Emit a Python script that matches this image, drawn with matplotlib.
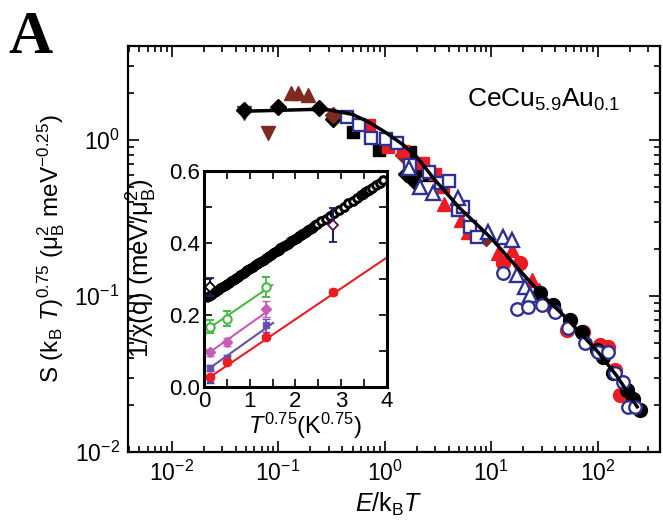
import matplotlib
matplotlib.use("Agg")
import matplotlib.pyplot as plt
from matplotlib.ticker import LogLocator, MultipleLocator, FormatStrFormatter, NullFormatter

plt.rcParams["font.family"] = ["Liberation Sans", "DejaVu Sans"]
plt.rcParams["mathtext.fontset"] = "custom"
plt.rcParams["mathtext.rm"] = "Liberation Sans"
plt.rcParams["mathtext.it"] = "Liberation Sans:italic"
plt.rcParams["mathtext.bf"] = "Liberation Sans:bold"

# main panel: scaling curve and data sets
curve_x = [0.048, 0.1, 0.2, 0.3, 0.5, 0.7, 1.0, 1.5, 2.0, 3.0, 5.0, 10, 20, 30, 50, 100, 150, 235]
curve_y = [1.53, 1.55, 1.57, 1.56, 1.46, 1.31, 1.13, 0.93, 0.78, 0.55, 0.37, 0.235, 0.138, 0.102, 0.073, 0.044, 0.031, 0.0195]

brown_dn_x = [0.048, 0.08]
brown_dn_y = [1.49, 1.11]
brown_up_x = [0.132, 0.153, 0.19]
brown_up_y = [2.0, 2.0, 1.94]
blk_dia_x = [0.048, 0.1, 0.24, 0.33, 1.6, 1.9, 2.0]
blk_dia_y = [1.56, 1.63, 1.60, 1.36, 0.61, 0.55, 0.62]
brn_dia_x = [0.325, 1.5, 9.0]
brn_dia_y = [1.45, 0.80, 0.235]
blk_sq_x = [0.51, 0.88, 1.75, 2.6]
blk_sq_y = [1.13, 0.86, 0.84, 0.60]
red_sq_x = [0.71, 1.07, 1.5, 2.3, 3.0, 3.5]
red_sq_y = [1.25, 0.90, 0.85, 0.71, 0.61, 0.50]
red_tri_x = [3.6, 5.2, 6.1, 11.7, 15.8, 24, 28]
red_tri_y = [0.39, 0.307, 0.257, 0.19, 0.197, 0.127, 0.11]
blue_sq_x = [0.44, 0.58, 0.74, 1.02, 1.32, 1.75, 2.6, 3.35, 4.0, 4.9, 5.5, 6.4, 7.4]
blue_sq_y = [1.40, 1.25, 1.03, 1.01, 0.96, 0.69, 0.62, 0.53, 0.55, 0.356, 0.37, 0.277, 0.239]
blue_tri_x = [1.68, 2.17, 2.82, 4.94, 9.4, 12.8, 15.8, 17.6, 21, 23]
blue_tri_y = [0.66, 0.50, 0.457, 0.425, 0.257, 0.239, 0.229, 0.136, 0.114, 0.101]
red_circ_x = [13, 18.8, 38, 52, 73, 105, 126, 146, 163]
red_circ_y = [0.163, 0.163, 0.084, 0.0605, 0.0588, 0.0485, 0.047, 0.0336, 0.0232]
blk_circ_x = [29, 38, 55, 72, 99, 113, 140, 190, 215, 250]
blk_circ_y = [0.104, 0.0875, 0.070, 0.0588, 0.045, 0.0406, 0.032, 0.025, 0.022, 0.0186]
blue_circ_x = [13, 17.6, 22, 30, 40, 53, 76, 101, 126, 146, 173, 193, 225]
blue_circ_y = [0.14, 0.0826, 0.085, 0.0875, 0.079, 0.062, 0.05, 0.0437, 0.0437, 0.032, 0.028, 0.0194, 0.0194]

# inset: 1/chi(q) vs T^0.75 (bulk susceptibility, dense points)
bulk_x = [0.07, 0.11, 0.15, 0.19, 0.23, 0.27, 0.31, 0.35, 0.39, 0.43, 0.47, 0.51, 0.55, 0.59,
          0.63, 0.67, 0.71, 0.75, 0.79, 0.83, 0.87, 0.91, 0.95, 0.99, 1.03, 1.07, 1.11, 1.15,
          1.19, 1.23, 1.27, 1.31, 1.35, 1.39, 1.43, 1.47, 1.51, 1.55, 1.59, 1.63, 1.67, 1.71,
          1.75, 1.79, 1.83, 1.87, 1.91, 1.95, 1.99, 2.03, 2.07, 2.11, 2.15, 2.19, 2.23, 2.27,
          2.31, 2.35, 2.39, 2.43, 2.47, 2.56, 2.66, 2.75, 2.85, 2.95, 3.05, 3.15, 3.25, 3.34,
          3.43, 3.47, 3.52, 3.56, 3.60, 3.68, 3.76, 3.84, 3.92]
bulk_y = [0.250, 0.253, 0.257, 0.260, 0.263, 0.267, 0.270, 0.274, 0.277, 0.280, 0.284, 0.287,
          0.290, 0.294, 0.297, 0.300, 0.304, 0.307, 0.311, 0.314, 0.317, 0.321, 0.324, 0.327,
          0.331, 0.334, 0.338, 0.341, 0.344, 0.348, 0.351, 0.354, 0.358, 0.361, 0.365, 0.368,
          0.371, 0.375, 0.378, 0.381, 0.385, 0.388, 0.392, 0.395, 0.398, 0.402, 0.405, 0.408,
          0.412, 0.415, 0.419, 0.422, 0.425, 0.429, 0.432, 0.435, 0.439, 0.442, 0.445, 0.449,
          0.452, 0.460, 0.468, 0.476, 0.484, 0.493, 0.501, 0.510, 0.518, 0.526, 0.533, 0.537,
          0.541, 0.544, 0.547, 0.554, 0.561, 0.568, 0.574]
n_dense = 38  # points below T^0.75 ~ 1.6 overlap into a solid band

t_pts = [0.13, 0.50, 1.36]
green_y = [0.167, 0.190, 0.278]
green_err = [0.018, 0.020, 0.028]
mag_y = [0.097, 0.125, 0.216]
mag_err = [0.010, 0.012, 0.022]
vio_y = [0.053, 0.080, 0.172]
vio_err = [0.008, 0.010, 0.018]
red_x = [0.13, 0.50, 1.36, 2.82]
red_y = [0.028, 0.069, 0.139, 0.264]
red_err = [0.006, 0.006, 0.006, 0.008]
blue_x = [0.13]
blue_y = [0.022]
blue_err = [0.010]
dia_x = [0.13, 2.82]
dia_y = [0.278, 0.450]
dia_err = [0.024, 0.047]

fit_green = ([0.13, 1.49], [0.165, 0.283])
fit_mag = ([0.13, 1.44], [0.097, 0.215])
fit_vio = ([0.13, 1.51], [0.053, 0.178])
fit_red = ([0.10, 4.0], [0.025, 0.360])

RED = "#ec1c24"
BLUE = "#2e3192"
BROWN = "#7d2b20"
GREEN = "#4cb848"
MAG = "#c75bb8"
VIO = "#6a4fa8"
NAVY = "#1e1e5c"

fig = plt.figure(figsize=(6.63, 5.23), dpi=100)
ax = fig.add_axes([0.193, 0.1358, 0.8025, 0.776])
ax.set_xscale("log")
ax.set_yscale("log")
ax.set_xlim(0.0039, 385)
ax.set_ylim(0.01, 4.0)

ms = 10
ax.plot(brown_dn_x, brown_dn_y, "v", color=BROWN, ms=ms, ls="none")
ax.plot(brown_up_x, brown_up_y, "^", color=BROWN, ms=ms, ls="none")
ax.plot(blk_dia_x, blk_dia_y, "D", color="black", ms=ms - 2, ls="none")
ax.plot(brn_dia_x, brn_dia_y, "D", color=BROWN, ms=ms - 2, ls="none")
ax.plot(blk_sq_x, blk_sq_y, "s", color="black", ms=ms - 1, ls="none")
ax.plot(red_sq_x, red_sq_y, "s", color=RED, ms=ms - 1, ls="none")
ax.plot(red_tri_x, red_tri_y, "^", color=RED, ms=ms, ls="none")
ax.plot(red_circ_x, red_circ_y, "o", color=RED, ms=ms, ls="none")
ax.plot(blk_circ_x, blk_circ_y, "o", color="black", ms=ms, ls="none")
ax.plot(blue_sq_x, blue_sq_y, "s", mfc="white", mec=BLUE, mew=1.7, ms=ms - 1, ls="none")
ax.plot(blue_tri_x, blue_tri_y, "^", mfc="white", mec=BLUE, mew=1.7, ms=ms, ls="none")
ax.plot(blue_circ_x, blue_circ_y, "o", mfc="white", mec=BLUE, mew=1.7, ms=ms - 1, ls="none")
ax.plot(curve_x, curve_y, "-", color="black", lw=2.5)

ax.xaxis.set_major_locator(LogLocator(base=10, numticks=20))
ax.xaxis.set_minor_locator(LogLocator(base=10, subs=range(2, 10), numticks=20))
ax.xaxis.set_minor_formatter(NullFormatter())
ax.yaxis.set_minor_formatter(NullFormatter())
ax.tick_params(which="both", direction="in", top=True, right=True, width=1.2, labelsize=16.5)
ax.tick_params(which="major", length=8, pad=6)
ax.tick_params(which="minor", length=4)
for s in ax.spines.values():
    s.set_linewidth(1.6)

ax.set_xlabel(r"$E$/k$_\mathregular{B}$$T$", fontsize=18)
ax.xaxis.set_label_coords(0.49, -0.095)
ax.set_ylabel(r"S (k$_\mathregular{B}$ $T$)$^\mathregular{0.75}$ (μ$_\mathregular{B}^\mathregular{2}$ meV$^\mathregular{-0.25}$)",
              fontsize=17.5)
ax.yaxis.set_label_coords(-0.115, 0.5)
ax.text(0.782, 0.867, r"CeCu$_\mathregular{5.9}$Au$_\mathregular{0.1}$", transform=ax.transAxes,
        ha="center", va="center", fontsize=19)

fig.text(0.012, 0.928, "A", family="Liberation Serif", weight="bold", fontsize=44,
         ha="left", va="center")

# inset
axi = fig.add_axes([0.3077, 0.26, 0.276, 0.413])
axi.set_facecolor("white")
axi.set_xlim(0, 4)
axi.set_ylim(0, 0.6)
axi.plot(bulk_x[:n_dense], bulk_y[:n_dense], "o", color="black", ms=6.5, ls="none")
axi.plot(bulk_x[n_dense:], bulk_y[n_dense:], "o", mfc="white", mec="black", mew=2.2, ms=5.5, ls="none")
axi.plot(*fit_green, "-", color=GREEN, lw=1.5)
axi.plot(*fit_mag, "-", color=MAG, lw=1.5)
axi.plot(*fit_vio, "-", color=VIO, lw=1.5)
axi.plot(*fit_red, "-", color=RED, lw=1.5)
axi.errorbar(t_pts, green_y, yerr=green_err, fmt="o", mfc="white", mec=GREEN, ecolor=GREEN,
             mew=1.5, ms=6, capsize=3, elinewidth=1.3)
axi.errorbar(t_pts, mag_y, yerr=mag_err, fmt="D", color=MAG, ms=5, capsize=3, elinewidth=1.3)
axi.errorbar(t_pts, vio_y, yerr=vio_err, fmt="s", color=VIO, ms=5, capsize=3, elinewidth=1.3)
axi.errorbar(blue_x, blue_y, yerr=blue_err, fmt="^", color="#3050c0", ms=5, capsize=3, elinewidth=1.3)
axi.errorbar(red_x, red_y, yerr=red_err, fmt="o", color=RED, ms=6, capsize=3, elinewidth=1.3)
axi.errorbar(dia_x[:1], dia_y[:1], yerr=dia_err[:1], fmt="D", mfc="white", mec="black", ecolor=NAVY,
             mew=1.3, ms=5, capsize=3, elinewidth=1.5)
axi.errorbar(dia_x[1:], dia_y[1:], yerr=dia_err[1:], fmt="D", mfc="white", mec="#5a1050", ecolor=NAVY,
             mew=1.3, ms=5, capsize=3, elinewidth=1.5)

axi.xaxis.set_major_locator(MultipleLocator(1))
axi.xaxis.set_minor_locator(MultipleLocator(0.5))
axi.yaxis.set_major_locator(MultipleLocator(0.2))
axi.yaxis.set_minor_locator(MultipleLocator(0.1))
axi.yaxis.set_major_formatter(FormatStrFormatter("%.1f"))
axi.tick_params(which="both", direction="in", top=True, right=True, width=1.2, labelsize=16)
axi.tick_params(which="major", length=6, pad=3)
axi.tick_params(which="minor", length=6)
for s in axi.spines.values():
    s.set_linewidth(2.2)
axi.set_xlabel(r"$T^\mathregular{0.75}$(K$^\mathregular{0.75}$)", fontsize=17)
axi.xaxis.set_label_coords(0.55, -0.11)
axi.set_ylabel(r"1/χ(q) (meV/μ$_\mathregular{B}^\mathregular{2}$)", fontsize=18.5)
axi.yaxis.set_label_coords(-0.245, 0.55)

fig.savefig("out.png", dpi=100)
